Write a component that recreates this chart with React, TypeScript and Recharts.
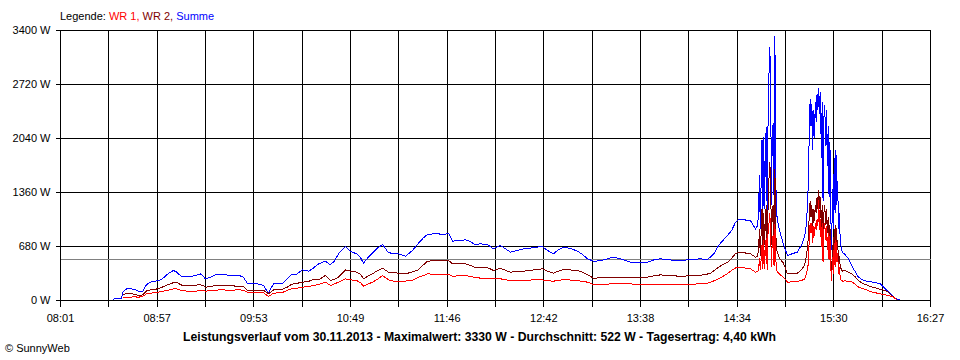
import React from 'react';
import { LineChart, Line, XAxis, YAxis, CartesianGrid, ReferenceLine } from 'recharts';

const FONT = '"Liberation Sans", Arial, Helvetica, sans-serif';

// minutes after 08:01
const minutesA = [
  20.9, 30.2, 31.4, 35.5, 36.1, 38.4, 40.7, 43.0, 45.4, 47.7,
  50.0, 52.3, 54.7, 56.4, 58.2, 59.9, 62.2, 64.0, 65.7, 67.5,
  68.6, 70.4, 73.3, 76.2, 79.1, 81.4, 83.2, 84.3, 87.2, 90.1,
  93.1, 98.9, 103.5, 106.4, 108.8, 113.4, 118.1, 119.8, 121.0, 123.9,
  129.1, 132.0, 134.4, 137.3, 140.7, 144.2, 146.6, 150.1, 154.1, 157.0,
  159.4, 161.7, 165.8, 168.7, 172.2, 174.5, 176.2, 179.1, 181.5, 183.8,
  187.3, 190.8, 193.7, 196.6, 200.7, 204.7, 208.2, 211.1, 213.5, 216.9,
  219.8, 222.8, 225.7, 228.0, 231.5, 235.6, 238.5, 240.8, 244.3, 248.3,
  251.8, 255.9, 258.8, 261.7, 265.8, 269.3, 273.4, 277.4, 280.3, 283.2,
  286.7, 289.6, 292.5, 296.6, 300.7, 303.6, 306.5, 310.0, 314.1, 318.1,
  321.6, 325.7, 331.5, 337.3, 341.4, 344.9, 349.0, 354.8, 360.6, 366.4,
  372.2, 375.7, 378.0, 380.4, 382.7, 385.0, 387.9, 390.3, 392.6, 394.3,
  397.8, 401.3, 404.2, 405.4,
];
const summeA = [
  0, 0, 21, 21, 100, 147, 147, 140, 115, 110,
  200, 231, 240, 252, 260, 285, 330, 357, 378, 360,
  336, 302, 300, 302, 320, 336, 300, 273, 294, 323,
  323, 320, 318, 294, 210, 215, 189, 130, 100, 210,
  215, 273, 330, 330, 386, 369, 400, 462, 495, 449,
  500, 588, 680, 617, 588, 540, 470, 546, 600, 651,
  705, 600, 595, 588, 558, 630, 722, 790, 831, 840,
  840, 827, 848, 747, 755, 764, 740, 705, 714, 705,
  651, 693, 650, 609, 630, 651, 660, 672, 680, 630,
  588, 640, 672, 655, 621, 580, 525, 495, 500, 525,
  546, 525, 483, 483, 483, 510, 525, 510, 504, 515,
  525, 512, 546, 600, 693, 750, 819, 880, 986, 1020,
  1015, 1007, 902, 940,
];
const wr2A = [
  null, null, null, null, 76, 84, 84, 80, 63, 70,
  120, 134, 140, 147, 160, 175, 200, 210, 225, 228,
  215, 195, 189, 189, 195, 197, 185, 168, 176, 189,
  189, 185, 180, 176, 126, 130, 126, 105, 84, 134,
  140, 170, 205, 215, 231, 240, 260, 260, 315, 252,
  270, 294, 386, 369, 357, 330, 273, 310, 336, 370,
  407, 357, 350, 344, 336, 360, 386, 450, 495, 500,
  500, 500, 504, 462, 462, 462, 440, 420, 420, 415,
  378, 407, 380, 357, 365, 369, 380, 390, 399, 370,
  344, 370, 390, 385, 378, 355, 327, 281, 285, 290,
  294, 290, 285, 290, 294, 310, 323, 312, 306, 310,
  318, 330, 344, 380, 420, 450, 480, 530, 590, 609,
  600, 588, 546, 560,
];
const wr1A = [
  null, null, null, null, 38, 42, 42, 46, 42, 50,
  84, 92, 100, 105, 110, 118, 130, 134, 147, 147,
  140, 126, 118, 118, 118, 126, 122, 118, 122, 130,
  134, 130, 134, 130, 105, 100, 97, 70, 50, 92,
  100, 130, 147, 155, 168, 175, 189, 201, 231, 189,
  210, 231, 273, 260, 252, 225, 180, 210, 231, 260,
  315, 260, 245, 239, 245, 252, 294, 315, 336, 330,
  327, 327, 327, 306, 310, 315, 300, 294, 281, 278,
  273, 273, 262, 252, 252, 255, 258, 260, 260, 250,
  243, 255, 260, 258, 252, 240, 231, 201, 205, 207,
  210, 210, 210, 197, 197, 200, 201, 201, 201, 205,
  210, 215, 231, 250, 273, 300, 340, 380, 410, 420,
  410, 399, 357, 370,
];

const minutesSpike1 = [406, 406.5, 407, 407.5, 408, 408.5, 409, 409.5, 410, 410.5, 411, 411.5, 412, 412.5, 413, 413.5, 414, 414.5, 415, 415.5, 416, 416.5, 417];
const summeSpike1 = [1100, 1574, 900, 1500, 2015, 1000, 2056, 1150, 1952, 2183, 1050, 2204, 2812, 3198, 2821, 1200, 2141, 2229, 1300, 3330, 1511, 1100, 1007];
const wr2Spike1 = [650, 900, 560, 850, 1150, 620, 1100, 700, 1050, 1200, 640, 1150, 1500, 1750, 1550, 700, 1150, 1200, 760, 1650, 850, 650, 600];
const wr1Spike1 = [380, 540, 380, 520, 700, 400, 760, 400, 720, 790, 390, 840, 950, 1100, 920, 420, 790, 820, 440, 960, 530, 380, 360];

const minutesB = [418.2, 420.5, 422.8, 425.7, 428.6, 431.0, 432.7, 433.9];
const summeB = [880, 705, 567, 590, 609, 700, 797, 966];
const wr2B = [530, 470, 336, 344, 344, 390, 440, 560];
const wr1B = [330, 294, 231, 235, 240, 252, 270, 336];

const minutesSpike2 = [
  435, 435.5, 436, 436.5, 437, 437.5, 438, 438.5, 439, 439.5,
  440, 440.5, 441, 441.5, 442, 442.5, 443, 443.5, 444, 444.5,
  445, 445.5, 446, 446.5, 447, 447.5, 448, 448.5, 449, 449.5,
  450, 450.5, 451, 451.5, 452, 452.5, 453, 453.5, 454, 454.5, 455,
];
const summeSpike2 = [
  1500, 2141, 2540, 2200, 2480, 1900, 2400, 2050, 2500, 2250,
  2600, 2400, 2678, 2350, 2620, 1800, 2500, 1259, 2300, 2456,
  1950, 2400, 1700, 2200, 1300, 2000, 1100, 630, 1400, 900,
  1800, 1100, 1889, 1200, 1500, 900, 1100, 750, 680, 620, 600,
];
const wr2Spike2 = [
  800, 1100, 1250, 1050, 1200, 900, 1150, 1000, 1200, 1100,
  1300, 1150, 1385, 1150, 1300, 900, 1200, 650, 1100, 1200,
  950, 1150, 850, 1050, 650, 950, 560, 340, 700, 480,
  900, 560, 950, 620, 760, 480, 560, 420, 400, 380, 370,
];
const wr1Spike2 = [
  470, 810, 980, 850, 980, 720, 935, 810, 980, 890,
  1020, 935, 1260, 890, 1020, 680, 980, 480, 890, 980,
  765, 935, 640, 850, 510, 810, 425, 250, 550, 340,
  720, 425, 765, 480, 600, 340, 425, 280, 260, 250, 240,
];

const minutesC = [456.0, 458.3, 460.6, 462.4, 464.1, 467.0, 472.3, 476.9, 479.8, 481.6, 484.5, 486.6, 488.0, 489.7];
const summeC = [588, 525, 420, 357, 294, 252, 231, 210, 147, 105, 42, 13, 8, 0];
const wr2C = [380, 357, 330, 294, 250, 210, 168, 140, 126, 100, 42, 5, 0, null];
const wr1C = [250, 240, 231, 200, 170, 147, 105, 84, 70, 63, 42, 5, 0, null];

const minutes = [...minutesA, ...minutesSpike1, ...minutesB, ...minutesSpike2, ...minutesC];
const summe = [...summeA, ...summeSpike1, ...summeB, ...summeSpike2, ...summeC];
const wr2 = [...wr2A, ...wr2Spike1, ...wr2B, ...wr2Spike2, ...wr2C];
const wr1 = [...wr1A, ...wr1Spike1, ...wr1B, ...wr1Spike2, ...wr1C];

const timeLabels = ['08:01', '08:57', '09:53', '10:49', '11:46', '12:42', '13:38', '14:34', '15:30', '16:27'];
const yTicks = [0, 680, 1360, 2040, 2720, 3400];
const SPAN = 506;
const xTicks = Array.from({ length: 19 }, (_, i) => (i * SPAN) / 18);
const average = 522;
const title = 'Leistungsverlauf vom 30.11.2013 - Maximalwert: 3330 W - Durchschnitt: 522 W - Tagesertrag: 4,40 kWh';

const data = minutes.map((t, i) => ({ t, summe: summe[i], wr2: wr2[i], wr1: wr1[i] }));

const XTick = (props: any) => {
  const { x, y, index } = props;
  if (index % 2 !== 0) return <g />;
  return (
    <text x={x} y={y} dy={13} textAnchor="middle" fontSize={11} fontFamily={FONT} fill="#000">
      {timeLabels[index / 2]}
    </text>
  );
};

export default function App() {
  return (
    <div style={{ position: 'absolute', left: 0, top: 0, width: 960, height: 360, background: '#fff' }}>
      <style>{`.recharts-surface line, .recharts-surface path { shape-rendering: crispEdges; }`}</style>
      <LineChart width={960} height={360} data={data} margin={{ top: 30.5, right: 29.5, bottom: 39.5, left: 0.5 }}>
        <CartesianGrid stroke="#000" strokeWidth={1} />
        <XAxis
          dataKey="t"
          type="number"
          domain={[0, SPAN]}
          ticks={xTicks}
          interval={0}
          tick={(p: any) => <XTick {...p} />}
          tickSize={6}
          tickMargin={2}
          height={20}
          axisLine={{ stroke: '#000' }}
          tickLine={{ stroke: '#000' }}
          allowDataOverflow
        />
        <YAxis
          type="number"
          domain={[0, 3400]}
          ticks={yTicks}
          interval={0}
          width={60}
          tickSize={5}
          tickMargin={5}
          tickFormatter={(v: number) => `${v} W`}
          tick={{ fill: '#000', fontSize: 11, fontFamily: FONT }}
          axisLine={{ stroke: '#000' }}
          tickLine={{ stroke: '#000' }}
        />
        <ReferenceLine y={average} stroke="#808080" strokeWidth={1} />
        <Line type="linear" dataKey="summe" stroke="#0000ff" strokeWidth={1} dot={false} isAnimationActive={false} />
        <Line type="linear" dataKey="wr2" stroke="#800000" strokeWidth={1} dot={false} isAnimationActive={false} />
        <Line type="linear" dataKey="wr1" stroke="#ff0000" strokeWidth={1} dot={false} isAnimationActive={false} />
      </LineChart>
      <svg width={960} height={360} style={{ position: 'absolute', left: 0, top: 0, pointerEvents: 'none' }}>
        <text x={60} y={20} fontSize={11} fontFamily={FONT}>
          <tspan fill="#000">Legende: </tspan>
          <tspan fill="#ff0000">WR 1, </tspan>
          <tspan fill="#800000">WR 2, </tspan>
          <tspan fill="#0000ff">Summe</tspan>
        </text>
        <text x={479.5} y={341} textAnchor="middle" fontSize={12} fontWeight="bold" fontFamily={FONT} fill="#000" textLength={593} lengthAdjust="spacingAndGlyphs">
          {title}
        </text>
        <text x={5} y={352} fontSize={11} fontFamily={FONT} fill="#000">
          © SunnyWeb
        </text>
      </svg>
    </div>
  );
}
